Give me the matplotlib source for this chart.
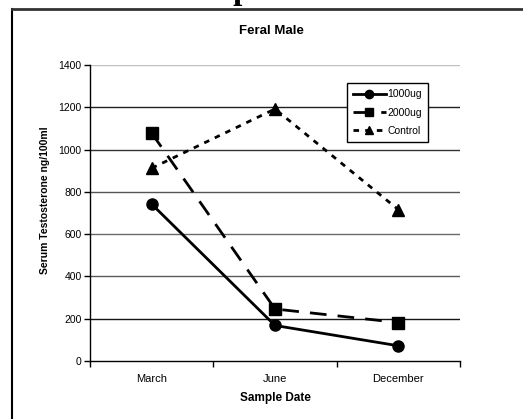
import matplotlib
matplotlib.use("Agg")
import matplotlib.pyplot as plt
from matplotlib.lines import Line2D

plt.rcParams['font.family'] = ['Liberation Sans', 'DejaVu Sans']

categories = ["March", "June", "December"]
dose_1000 = [742, 168, 72]
dose_2000 = [1078, 246, 182]
control = [912, 1192, 716]
yticks = [0, 200, 400, 600, 800, 1000, 1200, 1400]

W, H = 523, 419
fig = plt.figure(figsize=(W / 100, H / 100), dpi=100)
ax = fig.add_axes([90 / W, 1 - 361 / H, (460 - 90) / W, (361 - 65) / H])

# frame of the enclosing chart object
fig.add_artist(Line2D([12 / W, 12 / W], [-0.05, 1 - 9 / H], transform=fig.transFigure,
                      color='black', lw=1.5))
fig.add_artist(Line2D([12 / W, 1.05], [1 - 9 / H, 1 - 9 / H], transform=fig.transFigure,
                      color='#333333', lw=2.0))
# clipped large title glyph above frame
fig.text(242 / W, 1 + 1 / H, "p", family='Liberation Serif', weight='bold',
         fontsize=24, ha='center', va='baseline')

grid_colors = ['#c0c0c0', '#202020', '#333333', '#555555', '#6a6a6a', '#5a5a5a', '#151515']
for yv, c in zip(yticks[::-1], grid_colors):
    if yv == 0:
        continue
    ax.axhline(yv, color=c, lw=1.0, zorder=1)

x = list(range(len(categories)))
ax.plot(x, dose_1000, color='black', lw=2.0, marker='o', markersize=8,
        label='1000ug', zorder=3)
ax.plot(x, dose_2000, color='black', lw=2.0, ls=(0, (6, 4)), marker='s', markersize=8,
        label='2000ug', zorder=3)
ax.plot(x, control, color='black', lw=2.0, ls=(0, (2, 2.2)), marker='^', markersize=9,
        label='Control', zorder=3)

ax.set_xlim(-0.5, 2.5)
ax.set_ylim(0, 1400)
ax.set_yticks(yticks)
ax.set_yticklabels([str(v) for v in yticks], fontsize=7.5)
ax.set_xticks(x)
ax.set_xticklabels(categories, fontsize=8)
ax.set_xticks([-0.5, 0.5, 1.5, 2.5], minor=True)
ax.tick_params(axis='x', which='major', length=0, pad=9)
ax.tick_params(axis='x', which='minor', length=4, width=1, direction='out')
ax.tick_params(axis='y', length=4, width=1, direction='out', pad=2)

for s in ['top', 'right']:
    ax.spines[s].set_visible(False)
ax.spines['left'].set_linewidth(1.0)
ax.spines['bottom'].set_linewidth(1.0)

fig.text(271 / W, 1 - 31 / H, "Feral Male", fontsize=9.5, weight='bold',
         ha='center', va='center')
fig.text(45 / W, 1 - 200 / H, "Serum Testosterone ng/100ml", fontsize=7.5, weight='bold',
         rotation=90, ha='center', va='center')
fig.text(275 / W, 1 - 398 / H, "Sample Date", fontsize=8.5, weight='bold',
         ha='center', va='center')

leg = ax.legend(loc='upper left', bbox_to_anchor=((347 - 90) / 370, 1 - (83 - 65) / 296),
                fontsize=7.5, frameon=True, fancybox=False, framealpha=1,
                edgecolor='black', handlelength=3.1, handletextpad=0.15,
                borderpad=0.6, labelspacing=0.8, borderaxespad=0)
leg.get_frame().set_linewidth(1.0)
for h in leg.legend_handles:
    h.set_markersize(6)

fig.savefig("out.png", dpi=100)
